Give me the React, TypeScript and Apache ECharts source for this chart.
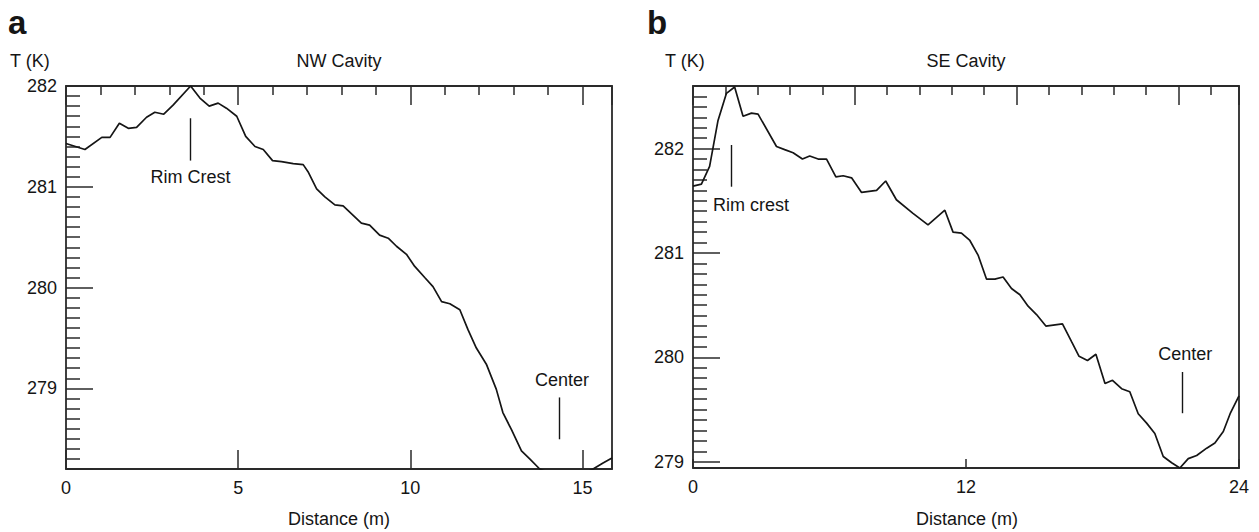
import React, { useEffect, useRef } from "react";
import * as echarts from "echarts";

// Panel a: NW Cavity — distance (m) and temperature (K)
const nwDistance = [0, 0.55, 1.04, 1.28, 1.55, 1.81, 2.05, 2.34, 2.58, 2.84, 3.11, 3.62, 3.89, 4.16, 4.42, 4.66, 4.96, 5.22, 5.49, 5.73, 6.0, 6.26, 6.6, 6.89, 7.03, 7.28, 7.52, 7.81, 8.05, 8.58, 8.82, 9.11, 9.36, 9.6, 9.89, 10.13, 10.42, 10.66, 10.91, 11.15, 11.44, 11.68, 11.92, 12.21, 12.5, 12.69, 12.94, 13.23, 13.47, 13.76, 14.2, 14.8, 15.31, 15.6, 15.86];
const nwTemp = [281.43, 281.37, 281.49, 281.49, 281.63, 281.58, 281.59, 281.69, 281.74, 281.72, 281.81, 282.0, 281.88, 281.8, 281.83, 281.78, 281.7, 281.5, 281.4, 281.37, 281.26, 281.25, 281.23, 281.22, 281.15, 280.98, 280.9, 280.82, 280.81, 280.64, 280.62, 280.52, 280.49, 280.41, 280.33, 280.21, 280.1, 280.01, 279.86, 279.84, 279.78, 279.58, 279.4, 279.24, 278.99, 278.76, 278.59, 278.38, 278.3, 278.2, 278.14, 278.12, 278.2, 278.26, 278.31];

// Panel b: SE Cavity
const seDistance = [0, 0.37, 0.73, 1.1, 1.47, 1.83, 2.2, 2.57, 2.86, 3.67, 4.03, 4.4, 4.81, 5.13, 5.5, 5.87, 6.28, 6.6, 6.97, 7.41, 8.07, 8.47, 8.94, 9.67, 10.33, 11.07, 11.43, 11.8, 12.17, 12.53, 12.9, 13.27, 13.63, 14.0, 14.37, 14.73, 15.1, 15.51, 16.24, 16.64, 16.97, 17.34, 17.71, 18.11, 18.44, 18.84, 19.2, 19.57, 19.94, 20.3, 20.67, 21.04, 21.4, 21.77, 22.14, 22.58, 22.94, 23.31, 23.61, 24.0];
const seTemp = [281.64, 281.66, 281.83, 282.27, 282.53, 282.59, 282.31, 282.34, 282.33, 282.02, 281.99, 281.96, 281.9, 281.93, 281.9, 281.9, 281.73, 281.74, 281.72, 281.58, 281.6, 281.69, 281.51, 281.38, 281.27, 281.41, 281.2, 281.19, 281.12, 280.98, 280.75, 280.75, 280.77, 280.66, 280.6, 280.49, 280.41, 280.3, 280.32, 280.15, 280.01, 279.97, 280.03, 279.75, 279.78, 279.7, 279.67, 279.46, 279.37, 279.27, 279.05, 278.99, 278.94, 279.03, 279.06, 279.13, 279.18, 279.29, 279.46, 279.63];

// Annotations: [label, x, yTop, yBottom, labelX, labelY]
const nwAnnotations: [string, number, number, number, number, number][] = [
  ["Rim Crest", 3.62, 281.68, 281.26, 3.62, 281.1],
  ["Center", 14.33, 278.91, 278.495, 14.41, 279.08],
];
const seAnnotations: [string, number, number, number, number, number][] = [
  ["Rim crest", 1.69, 282.035, 281.635, 2.55, 281.46],
  ["Center", 21.52, 279.86, 279.465, 21.64, 280.03],
];

const FONT = "'Liberation Sans', Arial, Helvetica, sans-serif";
const INK = "#151515";
const AXIS = "#2a2a2a";

const intLabel = (v: number) =>
  Math.abs(v - Math.round(v)) < 1e-6 ? String(Math.round(v)) : "";
const multLabel = (m: number) => (v: number) =>
  Math.abs(v / m - Math.round(v / m)) < 1e-6 ? String(Math.round(v)) : "";

function bottomX(grid: number, max: number, step: number, tickLen: number) {
  return {
    type: "value", gridIndex: grid, position: "bottom", min: 0, max,
    minInterval: step, maxInterval: step,
    axisLine: { show: true, onZero: false, lineStyle: { color: AXIS, width: 1.8 } },
    axisTick: { show: true, inside: true, length: tickLen, lineStyle: { color: AXIS, width: 1.5 } },
    axisLabel: { formatter: multLabel(step), margin: 10, fontSize: 18, color: INK, fontFamily: FONT },
    splitLine: { show: false },
  };
}
function topX(grid: number, max: number) {
  return {
    type: "value", gridIndex: grid, position: "top", min: 0, max,
    minInterval: 5, maxInterval: 5,
    axisLine: { show: true, onZero: false, lineStyle: { color: AXIS, width: 1.8 } },
    axisTick: { show: true, inside: true, length: 19, lineStyle: { color: AXIS, width: 1.5 } },
    minorTick: { show: true, splitNumber: 5, length: 9, lineStyle: { color: AXIS, width: 1.5 } },
    axisLabel: { show: false },
    splitLine: { show: false },
  };
}
function leftY(grid: number, min: number, max: number) {
  return {
    type: "value", gridIndex: grid, position: "left", min, max,
    minInterval: 1, maxInterval: 1,
    axisLine: { show: true, onZero: false, lineStyle: { color: AXIS, width: 1.8 } },
    axisTick: { show: true, inside: true, length: 27, lineStyle: { color: AXIS, width: 1.5 } },
    minorTick: { show: true, splitNumber: 10, length: 14, lineStyle: { color: AXIS, width: 1.5 } },
    axisLabel: { formatter: intLabel, margin: 9, fontSize: 18, color: INK, fontFamily: FONT },
    splitLine: { show: false },
  };
}
function rightY(grid: number, min: number, max: number) {
  return {
    type: "value", gridIndex: grid, position: "right", min, max,
    axisLine: { show: true, onZero: false, lineStyle: { color: AXIS, width: 1.8 } },
    axisTick: { show: false }, axisLabel: { show: false }, splitLine: { show: false },
  };
}

function curve(xs: number[], ys: number[], xi: number, yi: number, ann: typeof nwAnnotations) {
  return {
    type: "line", xAxisIndex: xi, yAxisIndex: yi,
    data: xs.map((x, i) => [x, ys[i]]),
    showSymbol: false, symbol: "none", clip: true,
    lineStyle: { color: INK, width: 1.7 },
    markLine: {
      silent: true, symbol: ["none", "none"], animation: false,
      label: { show: false },
      lineStyle: { color: INK, width: 1.4, type: "solid" },
      data: ann.map((a) => [{ coord: [a[1], a[2]] }, { coord: [a[1], a[3]] }]),
    },
    markPoint: {
      silent: true, symbol: "circle", symbolSize: 1, animation: false,
      itemStyle: { color: "rgba(0,0,0,0)" },
      label: { show: true, position: "inside", fontSize: 18, color: INK, fontFamily: FONT },
      data: ann.map((a) => ({ coord: [a[4], a[5]], value: a[0], label: { formatter: a[0] } })),
    },
  };
}

const txt = (text: string, x: number, y: number, size: number, bold = false, align = "center") => ({
  type: "text", x, y, silent: true,
  style: { text, fontSize: size, fontWeight: bold ? "bold" : "normal", fontFamily: FONT, fill: INK, align, verticalAlign: "middle" },
});

export default function App() {
  const ref = useRef<HTMLDivElement>(null);
  useEffect(() => {
    if (!ref.current) return;
    const chart = echarts.init(ref.current, undefined, { renderer: "svg" });
    chart.setOption({
      animation: false,
      backgroundColor: "#ffffff",
      grid: [
        { left: 66, top: 86, width: 546, height: 383 },
        { left: 693, top: 86, width: 546, height: 382 },
      ],
      xAxis: [bottomX(0, 15.86, 5, 19), topX(0, 15.86), bottomX(1, 24, 12, 9), topX(1, 16.875)],
      yAxis: [leftY(0, 278.2, 282), rightY(0, 278.2, 282), leftY(1, 278.94, 282.6), rightY(1, 278.94, 282.6)],
      series: [
        curve(nwDistance, nwTemp, 0, 0, nwAnnotations),
        curve(seDistance, seTemp, 2, 2, seAnnotations),
      ],
      graphic: [
        txt("a", 8, 22, 33, true, "left"),
        txt("b", 647, 22, 33, true, "left"),
        txt("T (K)", 10, 61, 18, false, "left"),
        txt("T (K)", 665, 61, 18, false, "left"),
        txt("NW Cavity", 339, 61, 18),
        txt("SE Cavity", 966, 61, 18),
        txt("Distance (m)", 339, 519, 18),
        txt("Distance (m)", 967, 519, 18),
      ],
    });
    return () => chart.dispose();
  }, []);
  return (
    <div
      ref={ref}
      style={{ position: "fixed", left: 0, top: 0, width: 1259, height: 532, background: "#fff" }}
    />
  );
}
